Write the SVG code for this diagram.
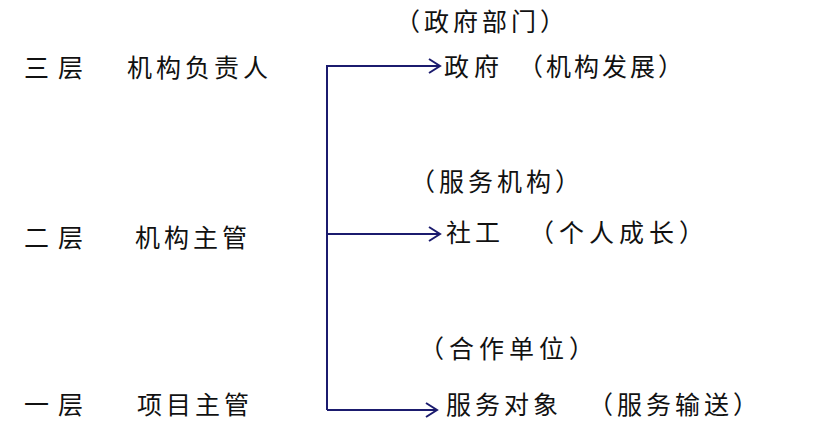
<svg xmlns="http://www.w3.org/2000/svg" width="827" height="422" viewBox="0 0 827 422">
<defs>
<style>
text{font-family:"Noto Sans CJK SC","Noto Sans",sans-serif;font-size:25px;fill:#111;}
.c{fill:none;stroke:#1b1b6e;stroke-width:2;}
</style>
<marker id="ah" markerWidth="14" markerHeight="16" refX="12" refY="8" orient="auto" markerUnits="userSpaceOnUse">
<path d="M1,1 L12,8 L1,15" fill="none" stroke="#1b1b6e" stroke-width="2"/>
</marker>
</defs>
<rect width="827" height="422" fill="#fff"/>
<g id="levels">
<g id="l3"><text x="24" y="77" letter-spacing="9">三层</text><text x="127" y="77" letter-spacing="4">机构负责人</text></g>
<g id="l2"><text x="24" y="247" letter-spacing="9">二层</text><text x="135" y="247" letter-spacing="4">机构主管</text></g>
<g id="l1"><text x="24" y="414" letter-spacing="9">一层</text><text x="137" y="414" letter-spacing="4">项目主管</text></g>
</g>
<g id="connectors">
<path class="c" d="M327,410 V66 H440" marker-end="url(#ah)"/>
<path class="c" d="M327,234 H440" marker-end="url(#ah)"/>
<path class="c" d="M327,410 H437" marker-end="url(#ah)"/>
</g>
<g id="gov">
<text x="395" y="31" letter-spacing="4">（政府部门）</text>
<text x="444" y="76" letter-spacing="5">政府</text>
<text x="518" y="76" letter-spacing="3">（机构发展）</text>
</g>
<g id="sw">
<text x="410" y="191" letter-spacing="4">（服务机构）</text>
<text x="446" y="242" letter-spacing="4">社工</text>
<text x="529" y="242" letter-spacing="5">（个人成长）</text>
</g>
<g id="client">
<text x="419" y="358" letter-spacing="5">（合作单位）</text>
<text x="446" y="414" letter-spacing="4">服务对象</text>
<text x="588" y="414" letter-spacing="4">（服务输送）</text>
</g>
</svg>
